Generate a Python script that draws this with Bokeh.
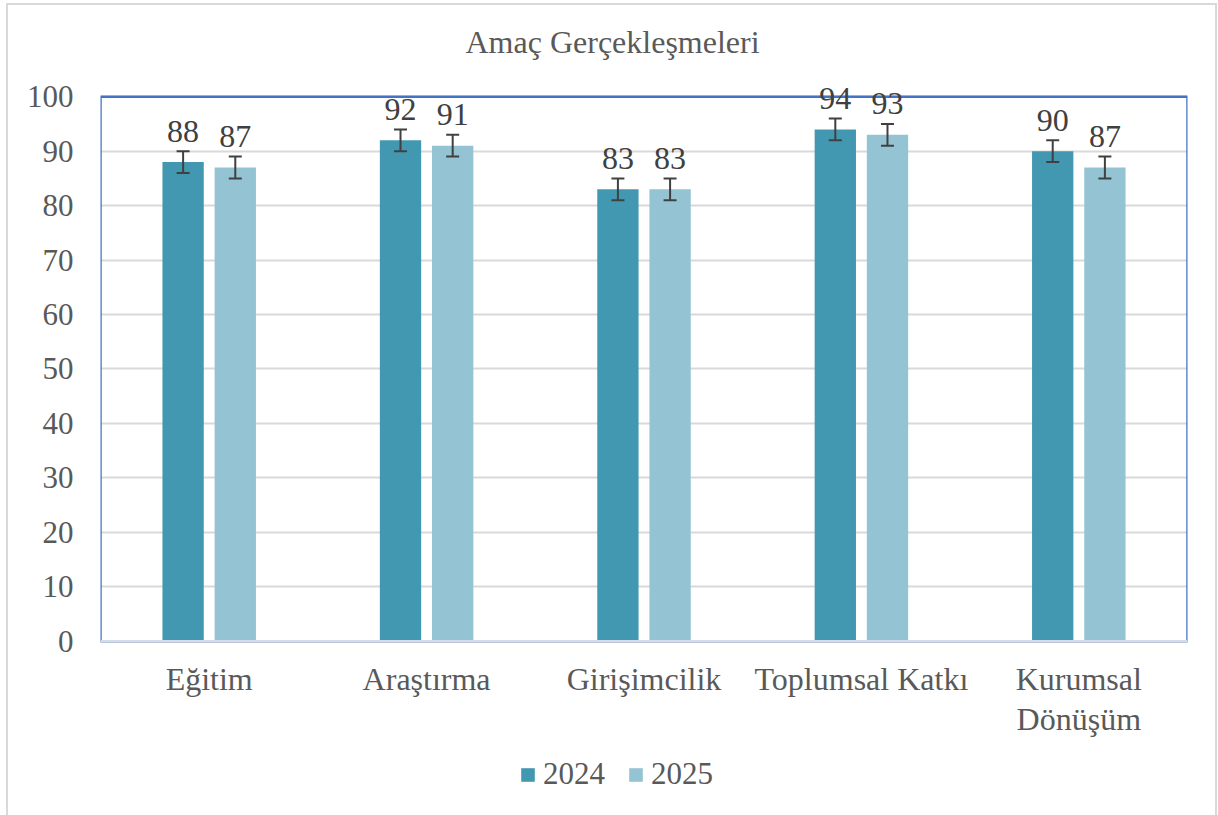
from bokeh.plotting import figure
from bokeh.models import (ColumnDataSource, FactorRange, Whisker, Legend, LegendItem, TeeHead,
                          BoxAnnotation, Span)
from bokeh.transform import dodge
from bokeh.embed import file_html
from bokeh.resources import INLINE

categories = ["Eğitim", "Araştırma", "Girişimcilik", "Toplumsal Katkı", "Kurumsal\nDönüşüm"]
series_names = ["2024", "2025"]
values_2024 = [88, 92, 83, 94, 90]
values_2025 = [87, 91, 83, 93, 87]
errors_2024 = [2, 2, 2, 2, 2]
errors_2025 = [2, 2, 2, 2, 2]
y_ticks = [0, 10, 20, 30, 40, 50, 60, 70, 80, 90, 100]
y_min, y_max = 0, 100
title_text = "Amaç Gerçekleşmeleri"

FONT = "Liberation Serif"
TXT = "#595959"
C24 = "#4298B0"
C25 = "#94C3D4"

src = ColumnDataSource(dict(
    cat=categories,
    v24=values_2024, v25=values_2025,
    up24=[v + e for v, e in zip(values_2024, errors_2024)],
    lo24=[v - e for v, e in zip(values_2024, errors_2024)],
    up25=[v + e for v, e in zip(values_2025, errors_2025)],
    lo25=[v - e for v, e in zip(values_2025, errors_2025)],
    l24=[str(v) for v in values_2024],
    l25=[str(v) for v in values_2025],
))
cat_src = ColumnDataSource(dict(cat=categories, y=[y_min] * len(categories)))

# the frame also covers the room under the value axis, where the category labels
# and the legend sit (so nothing there is clipped)
p = figure(x_range=FactorRange(*categories, range_padding=0), y_range=(-32, 105),
           frame_width=1087, frame_height=746, output_backend="svg", toolbar_location=None,
           x_axis_location=None,
           min_border_left=92, min_border_right=28, min_border_top=64, min_border_bottom=0)
p.styles = {"border-left": "2px solid #D9D9D9", "border-top": "2px solid #D9D9D9",
            "border-right": "2px solid #D9D9D9", "margin-left": "6px", "margin-top": "3px"}

p.title.text = title_text
p.title.align = "left"
p.title.offset = 365
p.title.text_font = FONT
p.title.text_font_style = "normal"
p.title.text_font_size = "32px"
p.title.text_color = TXT
p.title.standoff = 20

p.outline_line_color = None
p.background_fill_color = "white"
p.border_fill_color = "white"

p.xgrid.grid_line_color = None
p.ygrid.grid_line_color = "#D9D9D9"
p.ygrid.grid_line_width = 2
p.yaxis.ticker = y_ticks
p.yaxis.major_label_text_font = FONT
p.yaxis.major_label_text_color = TXT
p.yaxis.major_label_text_font_size = "31px"
p.yaxis.major_tick_line_color = None
p.yaxis.minor_tick_line_color = None
p.yaxis.axis_line_color = None
p.yaxis.major_label_standoff = 21

# plot-area border (blue), spanning the value axis 0..100
p.add_layout(BoxAnnotation(left=0, right=len(categories), bottom=y_min, top=y_max,
                           fill_alpha=0, line_color="#4472C4", line_alpha=1.0,
                           line_width=2.5, level="underlay"))
p.add_layout(Span(location=y_min, dimension="width", line_color="#D5DCE4",
                  line_width=2.5))

off = 0.12
bw = 0.19
r24 = p.vbar(x=dodge("cat", -off, range=p.x_range), top="v24", width=bw, source=src,
             fill_color=C24, line_color=None)
r25 = p.vbar(x=dodge("cat", off, range=p.x_range), top="v25", width=bw, source=src,
             fill_color=C25, line_color=None)

for key, o in (("24", -off), ("25", off)):
    w = Whisker(base=dodge("cat", o, range=p.x_range), upper="up" + key, lower="lo" + key,
                source=src, line_color="#404040", line_width=2, level="overlay")
    w.upper_head = TeeHead(size=13, line_color="#404040", line_width=2)
    w.lower_head = TeeHead(size=13, line_color="#404040", line_width=2)
    p.add_layout(w)
    p.text(x=dodge("cat", o, range=p.x_range), y="v" + key, text="l" + key, source=src,
           text_font_size="32px", text_color="#404040", text_align="center",
           text_baseline="alphabetic", y_offset=-31, text_font={"value": FONT})

# category labels under the value axis
p.text(x="cat", y="y", text="cat", source=cat_src, text_font_size="32px", text_color=TXT,
       text_align="center", text_baseline="top", y_offset=20, text_line_height=1.1,
       text_font={"value": FONT})

legend = Legend(items=[LegendItem(label=series_names[0], renderers=[r24]),
                       LegendItem(label=series_names[1], renderers=[r25])],
                orientation="horizontal", location=(419, 23))
legend.label_text_font = FONT
legend.label_text_font_size = "31px"
legend.label_text_color = TXT
legend.glyph_width = 17
legend.glyph_height = 17
legend.label_standoff = 7
legend.spacing = 22
legend.padding = 0
legend.margin = 0
legend.border_line_color = None
legend.background_fill_alpha = 0
p.add_layout(legend, "center")

open("out.html", "w").write(file_html(p, INLINE))
